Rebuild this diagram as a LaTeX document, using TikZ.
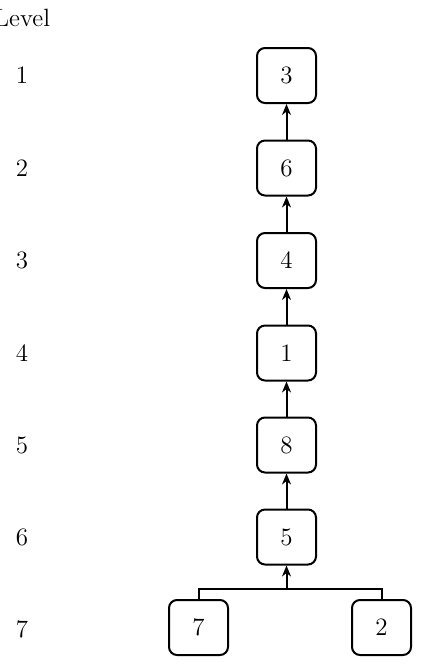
\documentclass[tikz,border=0pt]{standalone}
\usetikzlibrary{arrows.meta}
\begin{document}
\begin{tikzpicture}[x=0.5pt,y=-0.5pt,
  box/.style={draw,line width=1pt,rounded corners=4pt,minimum width=29.5pt,minimum height=27.5pt,inner sep=0pt,font=\fontsize{12.5}{14}\selectfont},
  lvl/.style={font=\fontsize{12.5}{14}\selectfont,inner sep=0pt},
  arr/.style={line width=1pt,-{Stealth[length=5.5pt,width=4.5pt]}},
  con/.style={line width=1pt}]
\useasboundingbox (0,0) rectangle (425,665);
\node[lvl] (lv) at (22,18) {Level};
\node[lvl] (l1) at (22,75.5) {1};
\node[lvl] (l2) at (22,168) {2};
\node[lvl] (l3) at (22,260) {3};
\node[lvl] (l4) at (22,353) {4};
\node[lvl] (l5) at (22,445) {5};
\node[lvl] (l6) at (22,537) {6};
\node[lvl] (l7) at (22,629) {7};
\node[box] (n3) at (286.5,75.5) {3};
\node[box] (n6) at (286.5,168) {6};
\node[box] (n4) at (286.5,260.5) {4};
\node[box] (n1) at (286.5,353) {1};
\node[box] (n8) at (286.5,445) {8};
\node[box] (n5) at (286.5,537) {5};
\node[box] (n7) at (198.5,627.5) {7};
\node[box] (n2) at (381.5,627.5) {2};
\draw[arr] (n6) -- (n3);
\draw[arr] (n4) -- (n6);
\draw[arr] (n1) -- (n4);
\draw[arr] (n8) -- (n1);
\draw[arr] (n5) -- (n8);
\coordinate (j) at (286.5,589);
\draw[con] (n7.north) |- (j) -| (n2.north);
\draw[arr] (j) -- (n5);
\end{tikzpicture}
\end{document}
